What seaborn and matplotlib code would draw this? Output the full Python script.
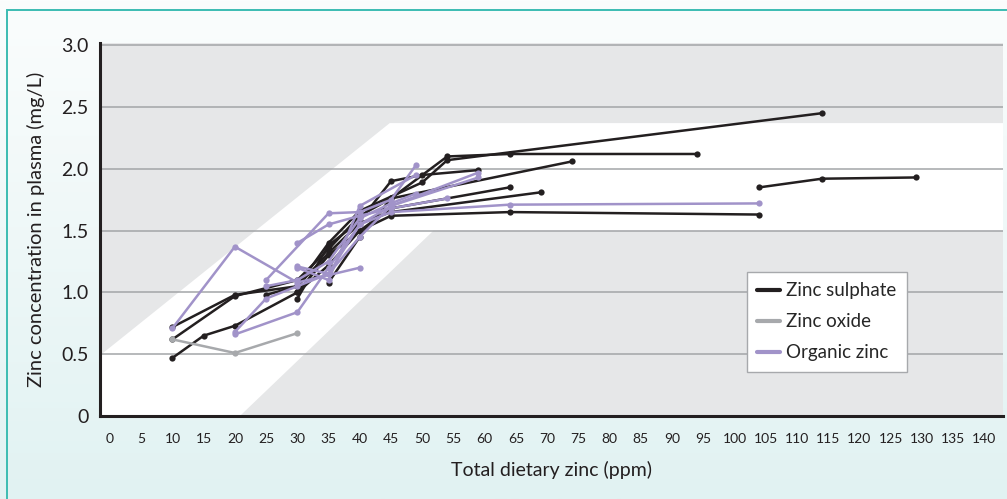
import numpy as np
import pandas as pd
import seaborn as sns
from matplotlib import pyplot as plt
from matplotlib.lines import Line2D
from matplotlib.patches import Rectangle

# dietary zinc (ppm) and plasma zinc (mg/L), one list per trial
sulphate_dose = [
    [10, 15, 20, 30, 35, 40, 45, 64, 104],
    [10, 20, 30, 35, 40, 45, 54, 64, 94],
    [10, 20, 30, 35, 40, 50, 54, 114],
    [30, 35, 40, 45, 50, 59],
    [35, 40, 45, 74],
    [30, 35, 40, 45, 64],
    [25, 30, 35, 40, 45, 69],
    [104, 114, 129],
]
sulphate_zinc = [
    [0.47, 0.65, 0.73, 1.00, 1.30, 1.50, 1.62, 1.65, 1.63],
    [0.62, 0.97, 1.10, 1.35, 1.62, 1.76, 2.10, 2.12, 2.12],
    [0.72, 0.98, 1.05, 1.40, 1.66, 1.89, 2.07, 2.45],
    [0.95, 1.38, 1.58, 1.90, 1.95, 1.99],
    [1.08, 1.45, 1.76, 2.06],
    [1.00, 1.22, 1.50, 1.68, 1.85],
    [0.98, 1.05, 1.32, 1.56, 1.65, 1.81],
    [1.85, 1.92, 1.93],
]

oxide_dose = [[10, 20, 30]]
oxide_zinc = [[0.62, 0.51, 0.67]]

organic_dose = [
    [10, 20, 30, 40],
    [20, 30, 35, 40, 45, 59],
    [25, 35, 40, 45, 49],
    [20, 25, 30, 35, 40, 45, 59],
    [30, 35, 40, 45, 64, 104],
    [30, 35, 40, 45, 54],
    [25, 30, 35, 40, 45, 49],
    [30, 35, 40, 49],
]
organic_zinc = [
    [0.71, 1.37, 1.08, 1.20],
    [0.66, 0.84, 1.20, 1.55, 1.70, 1.93],
    [1.10, 1.64, 1.65, 1.75, 2.03],
    [0.68, 0.95, 1.05, 1.15, 1.45, 1.70, 1.97],
    [1.21, 1.15, 1.55, 1.65, 1.71, 1.72],
    [1.40, 1.55, 1.62, 1.68, 1.76],
    [1.05, 1.10, 1.25, 1.60, 1.72, 1.80],
    [1.20, 1.10, 1.70, 1.95],
]

sources = ["Zinc sulphate", "Zinc oxide", "Organic zinc"]
colors = {"Zinc sulphate": "#231f20", "Zinc oxide": "#a7a9ac", "Organic zinc": "#a193c9"}

rows = []
for source, doses, zincs in [
    ("Zinc sulphate", sulphate_dose, sulphate_zinc),
    ("Zinc oxide", oxide_dose, oxide_zinc),
    ("Organic zinc", organic_dose, organic_zinc),
]:
    for i, (xs, ys) in enumerate(zip(doses, zincs)):
        for x, y in zip(xs, ys):
            rows.append({"source": source, "trial": f"{source} {i}", "dose": x, "zinc": y})
df = pd.DataFrame(rows)

sns.set_style("white")
plt.rcParams["font.family"] = ["Lato", "DejaVu Sans"]

fig = plt.figure(figsize=(10.07, 4.99), dpi=100)

# pale teal background with a thin border
bg = fig.add_axes([0, 0, 1, 1], zorder=-5)
grad = np.linspace(0, 1, 256).reshape(-1, 1)
bg.imshow(grad, aspect="auto", extent=[0, 1, 0, 1], origin="upper",
          cmap=sns.blend_palette(["#fbfdfd", "#e1f2f2"], as_cmap=True))
bg.add_patch(Rectangle((7 / 1007, -0.1), 1.2, 1 - 10 / 499 + 0.1, fill=False,
                       edgecolor="#3cbcb2", linewidth=1.4))
bg.set_xlim(0, 1)
bg.set_ylim(0, 1)
bg.axis("off")

ax = fig.add_axes([100 / 1007, 1 - 416 / 499, 903 / 1007, 373 / 499])
ax.set_facecolor("#e6e7e8")
xmin, xmax = -1.6, 143
ax.set_xlim(xmin, xmax)
ax.set_ylim(0, 3.018)

# white band of typical response
band_x = [xmin, 44.8, xmax, xmax, 51.8, 20.8, xmin]
band_y = [0.49, 2.37, 2.37, 1.50, 1.50, 0.0, 0.0]
ax.fill(band_x, band_y, color="white", zorder=0.2, linewidth=0)

ax.set_axisbelow(True)
ax.yaxis.grid(True, color="#a3a5a8", linewidth=1.1)
ax.xaxis.grid(False)

sns.lineplot(data=df, x="dose", y="zinc", hue="source", units="trial", estimator=None,
             palette=colors, hue_order=sources, marker="o", markersize=4.5,
             markeredgewidth=0, linewidth=1.8, sort=False, legend=False, ax=ax)

ax.set_xticks(range(0, 141, 5))
ax.set_xticklabels([str(v) for v in range(0, 141, 5)], fontsize=10, color="#231f20")
yt = [0, 0.5, 1.0, 1.5, 2.0, 2.5, 3.0]
ax.set_yticks(yt)
ax.set_yticklabels(["0"] + [f"{v:.1f}" for v in yt[1:]], fontsize=14, color="#231f20")
ax.tick_params(axis="both", length=0)
ax.tick_params(axis="x", pad=12)
ax.tick_params(axis="y", pad=8)

ax.set_xlabel("Total dietary zinc (ppm)", fontsize=14, color="#231f20", labelpad=12)
ax.set_ylabel("Zinc concentration in plasma (mg/L)", fontsize=14.5, color="#231f20", labelpad=12)

for side in ["top", "right"]:
    ax.spines[side].set_visible(False)
for side in ["left", "bottom"]:
    ax.spines[side].set_color("#231f20")
    ax.spines[side].set_linewidth(2.2)

handles = [Line2D([], [], color=colors[s], linewidth=3) for s in sources]
leg = ax.legend(handles, sources, loc="upper left", bbox_to_anchor=(0.7165, 0.386),
                borderaxespad=0, fontsize=13.5, frameon=True, fancybox=False, framealpha=1,
                edgecolor="#a7a9ac", handlelength=1.2, handletextpad=0.35,
                labelspacing=0.75, borderpad=0.55)
leg.get_frame().set_linewidth(1.0)

fig.savefig("out.png", dpi=100)
